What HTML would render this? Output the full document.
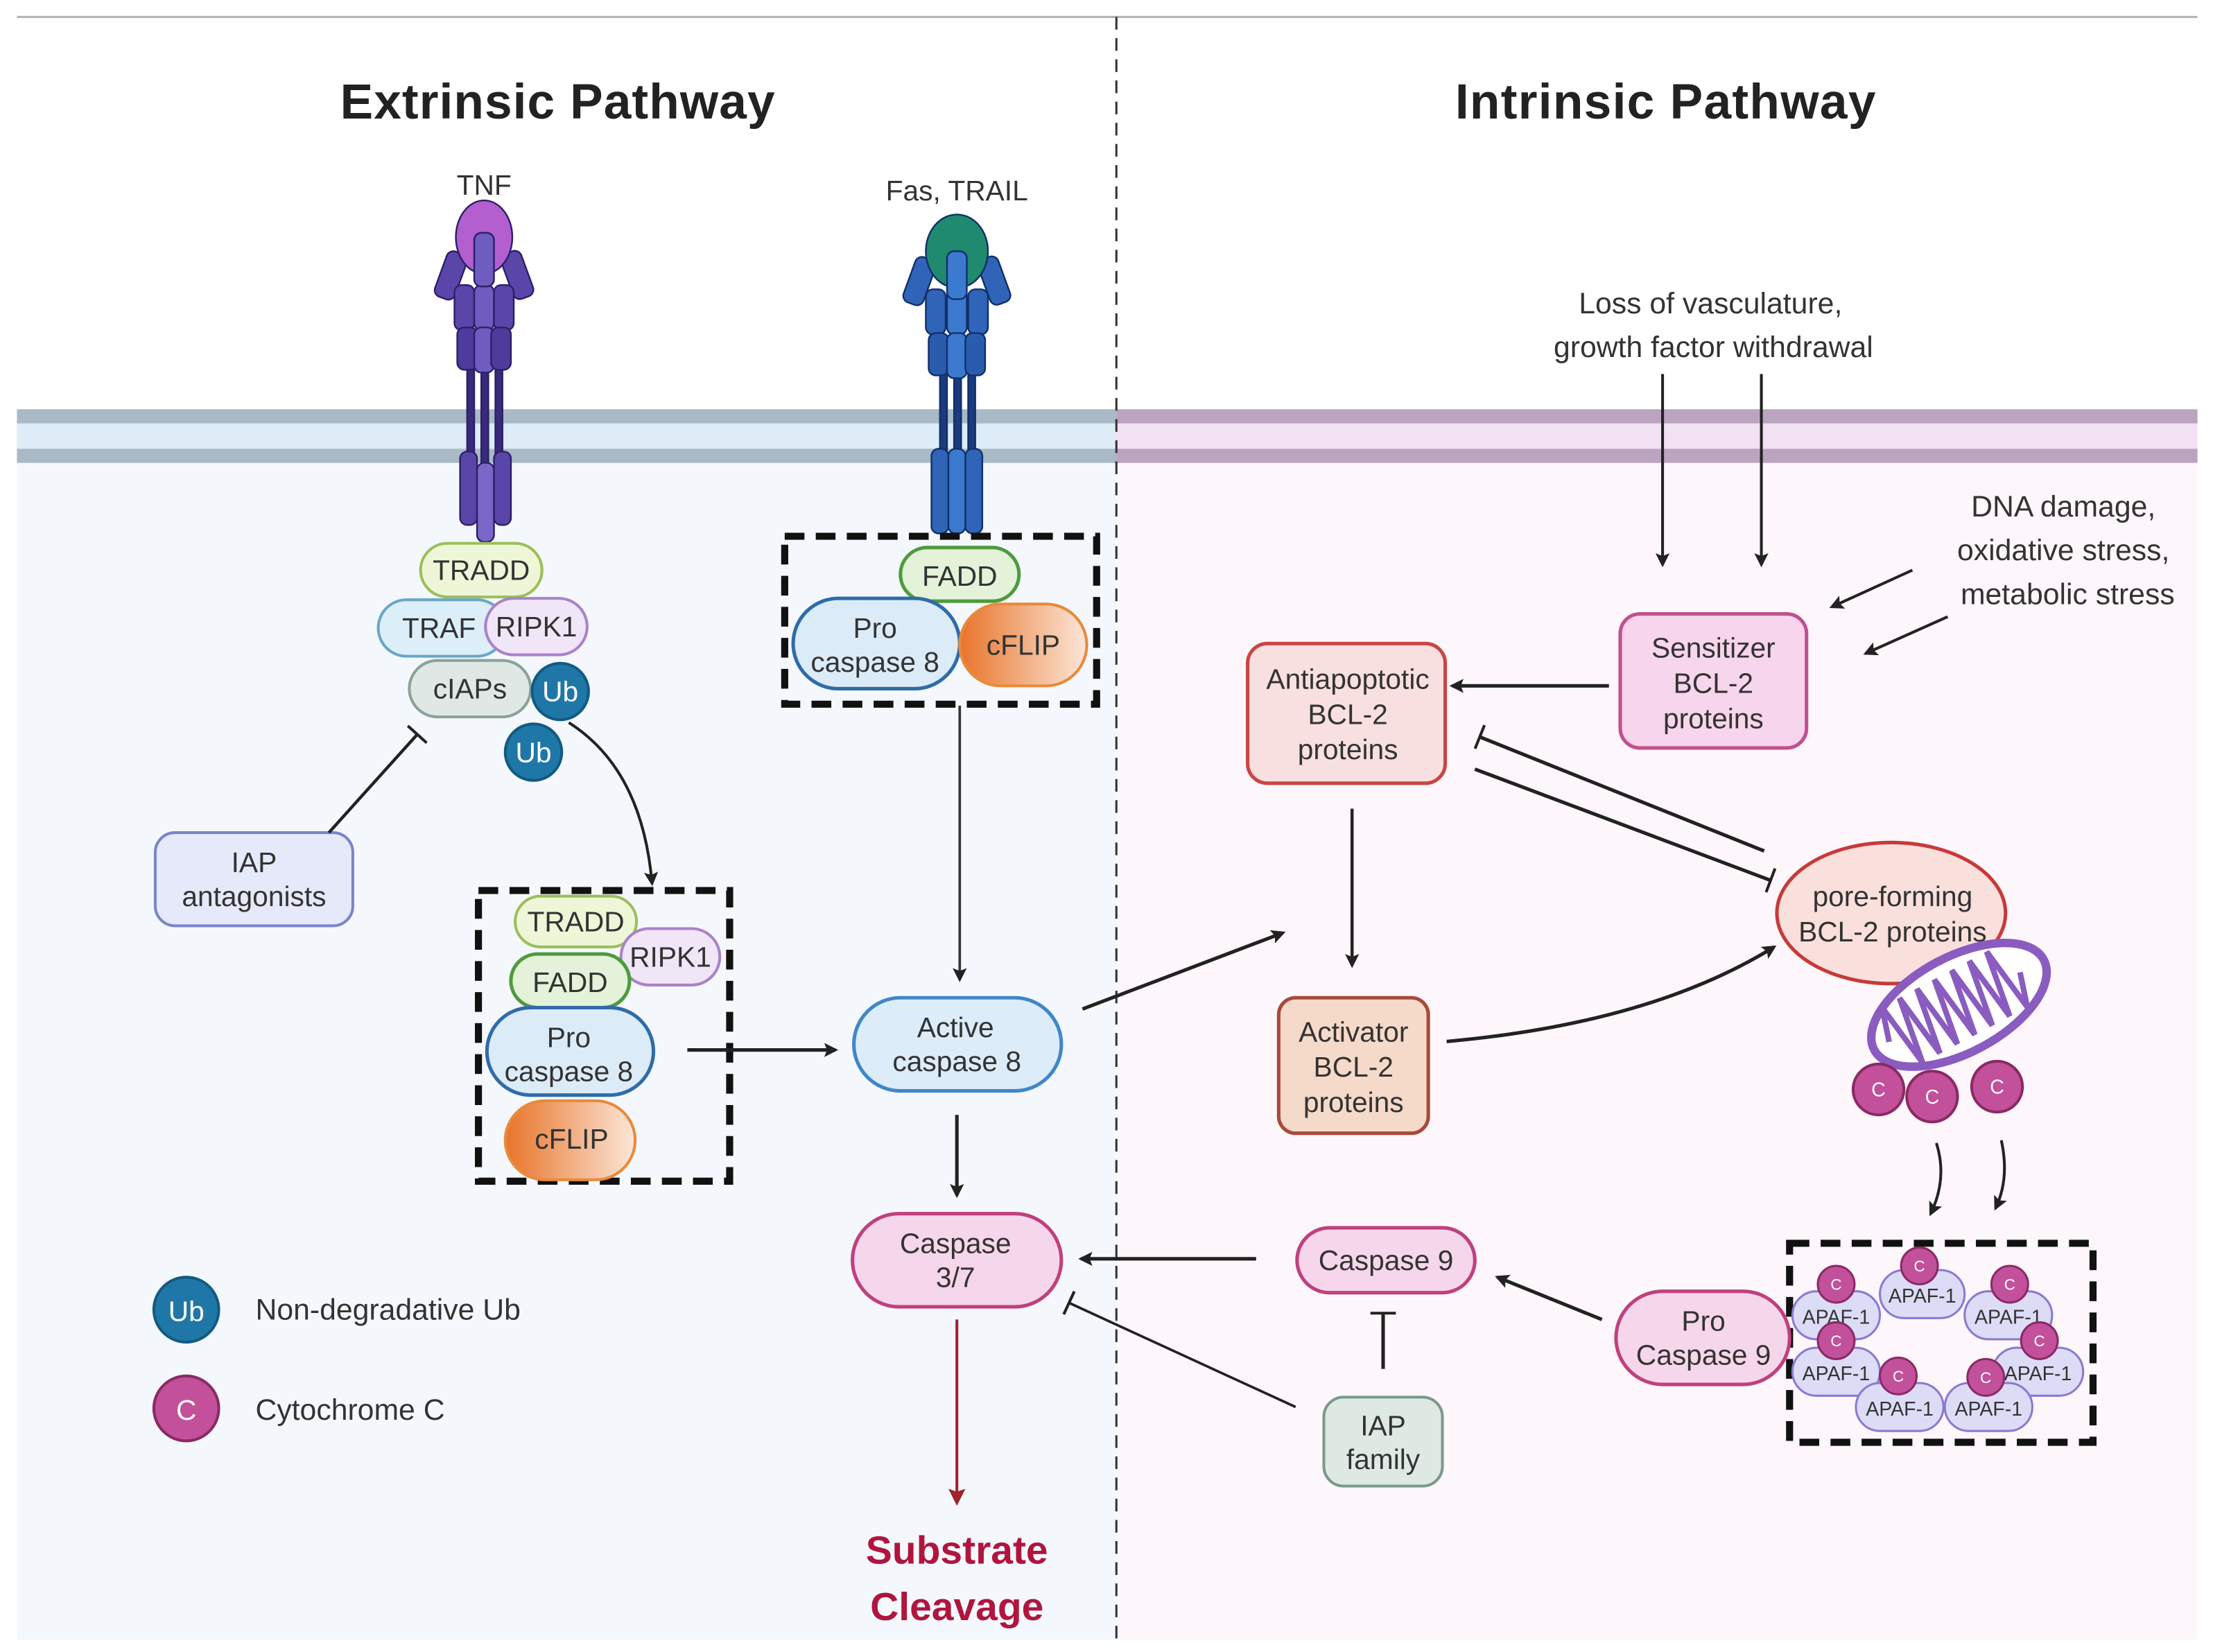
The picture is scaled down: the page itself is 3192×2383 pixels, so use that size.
<!DOCTYPE html>
<html><head><meta charset="utf-8"><style>
html,body{margin:0;padding:0;background:#fff}
svg{display:block}
text{font-family:"Liberation Sans",sans-serif;fill:#333}
</style></head><body>
<svg width="3192" height="2383" viewBox="0 0 1568 1170.6" preserveAspectRatio="none" xmlns="http://www.w3.org/2000/svg">
<defs>
<marker id="ah" markerWidth="10" markerHeight="10" refX="8" refY="5" orient="auto" markerUnits="userSpaceOnUse"><path d="M0,0 L10,5 L0,10 L2,5 Z" fill="#222"/></marker>
<marker id="ahr" markerWidth="12" markerHeight="12" refX="9" refY="6" orient="auto" markerUnits="userSpaceOnUse"><path d="M0,0 L12,6 L0,12 L2,6 Z" fill="#a0222a"/></marker>
<marker id="tb" markerWidth="4" markerHeight="18" refX="2" refY="9" orient="auto" markerUnits="userSpaceOnUse"><rect x="0.5" y="0" width="2" height="18" fill="#222"/></marker>
<linearGradient id="og" x1="0" x2="1"><stop offset="0" stop-color="#e8742a"/><stop offset="1" stop-color="#fbe6d8"/></linearGradient>
</defs>
<rect width="1568" height="1171" fill="#fff"/>
<rect x="12" y="300" width="779" height="862" fill="#f4f8fc"/>
<rect x="791" y="300" width="766" height="862" fill="#fdf6fa"/>
<line x1="12" y1="12" x2="1557" y2="12" stroke="#b5b5b5" stroke-width="1.5"/>
<rect x="12" y="290" width="779" height="38" fill="#ddecf7"/>
<rect x="12" y="290" width="779" height="10" fill="#a9b9c6"/>
<rect x="12" y="318" width="779" height="10" fill="#a9b9c6"/>
<rect x="791" y="290" width="766" height="38" fill="#f2e0f3"/>
<rect x="791" y="290" width="766" height="10" fill="#baa4c0"/>
<rect x="791" y="318" width="766" height="10" fill="#baa4c0"/>
<line x1="791" y1="12" x2="791" y2="1162" stroke="#333" stroke-width="1.5" stroke-dasharray="9,6"/>
<text x="395" y="84" font-size="35" font-weight="bold" text-anchor="middle" style="fill:#222" textLength="308">Extrinsic Pathway</text>
<text x="1180" y="84" font-size="35" font-weight="bold" text-anchor="middle" style="fill:#222" textLength="298">Intrinsic Pathway</text>

<!-- TNF receptor -->
<text x="343" y="138" font-size="20" text-anchor="middle">TNF</text>
<g stroke="#2d1f6a" stroke-width="1.2">
<rect x="331" y="258" width="5" height="70" fill="#3a2b7a"/><rect x="341" y="258" width="5" height="70" fill="#3a2b7a"/><rect x="351" y="258" width="5" height="70" fill="#3a2b7a"/>
<rect x="312" y="178" width="15" height="34" rx="5" fill="#5a46a8" transform="rotate(20 319 195)"/>
<rect x="359" y="178" width="15" height="34" rx="5" fill="#5a46a8" transform="rotate(-20 366 195)"/>
<rect x="322" y="202" width="14" height="32" rx="5" fill="#5a46a8"/><rect x="336" y="202" width="14" height="32" rx="5" fill="#6f5cc0"/><rect x="350" y="202" width="14" height="32" rx="5" fill="#5a46a8"/>
<rect x="324" y="232" width="14" height="30" rx="5" fill="#4e3c9c"/><rect x="336" y="232" width="14" height="32" rx="5" fill="#6f5cc0"/><rect x="348" y="232" width="14" height="30" rx="5" fill="#4e3c9c"/>
<rect x="326" y="320" width="12" height="52" rx="5" fill="#5a46a8"/><rect x="338" y="328" width="12" height="56" rx="5" fill="#7a68c8"/><rect x="350" y="320" width="12" height="52" rx="5" fill="#5a46a8"/>
<ellipse cx="343" cy="168" rx="20" ry="26" fill="#b35fd0"/>
<rect x="336" y="165" width="14" height="38" rx="5" fill="#6f5cc0"/>
</g>
<!-- Fas receptor -->
<text x="678" y="142" font-size="20" text-anchor="middle">Fas, TRAIL</text>
<g stroke="#12306a" stroke-width="1.2">
<rect x="666" y="260" width="5" height="68" fill="#1c3a7e"/><rect x="676" y="260" width="5" height="68" fill="#1c3a7e"/><rect x="686" y="260" width="5" height="68" fill="#1c3a7e"/>
<rect x="644" y="182" width="15" height="34" rx="5" fill="#2f64b8" transform="rotate(20 651 199)"/>
<rect x="697" y="182" width="15" height="34" rx="5" fill="#2f64b8" transform="rotate(-20 704 199)"/>
<rect x="656" y="205" width="14" height="32" rx="5" fill="#2f64b8"/><rect x="671" y="205" width="14" height="32" rx="5" fill="#3c7ad0"/><rect x="686" y="205" width="14" height="32" rx="5" fill="#2f64b8"/>
<rect x="658" y="236" width="14" height="30" rx="5" fill="#2a5cae"/><rect x="671" y="236" width="14" height="32" rx="5" fill="#3c7ad0"/><rect x="684" y="236" width="14" height="30" rx="5" fill="#2a5cae"/>
<rect x="660" y="318" width="12" height="60" rx="5" fill="#2f64b8"/><rect x="672" y="318" width="12" height="60" rx="5" fill="#3c7ad0"/><rect x="684" y="318" width="12" height="60" rx="5" fill="#2f64b8"/>
<ellipse cx="678" cy="178" rx="22" ry="26" fill="#1f8a6e"/>
<rect x="671" y="178" width="14" height="34" rx="5" fill="#3c7ad0"/>
</g>

<g font-size="20" text-anchor="middle">
<rect x="298" y="385" width="86" height="38" rx="19" fill="#eef6d8" stroke="#9bbf5a" stroke-width="2"/><text x="341" y="411">TRADD</text>
<rect x="268" y="425" width="90" height="40" rx="20" fill="#dceff8" stroke="#6aa7c8" stroke-width="2"/><text x="311" y="452">TRAF</text>
<rect x="344" y="424" width="72" height="40" rx="20" fill="#f1e6f8" stroke="#a983c8" stroke-width="2"/><text x="380" y="451">RIPK1</text>
<rect x="290" y="468" width="86" height="40" rx="20" fill="#dfe8e4" stroke="#8aa39a" stroke-width="2"/><text x="333" y="495">cIAPs</text>
<circle cx="397" cy="490" r="20" fill="#1f77a8" stroke="#135a82" stroke-width="2"/><text x="397" y="497" style="fill:#fff">Ub</text>
<circle cx="378" cy="533" r="20" fill="#1f77a8" stroke="#135a82" stroke-width="2"/><text x="378" y="540" style="fill:#fff">Ub</text>
<rect x="110" y="590" width="140" height="66" rx="14" fill="#e6e9f9" stroke="#7a86c8" stroke-width="2"/><text x="180" y="618">IAP</text><text x="180" y="642">antagonists</text>
</g>
<line x1="233" y1="590" x2="296" y2="520" stroke="#222" stroke-width="2.2" marker-end="url(#tb)"/>
<path d="M403,512 Q455,545 462,626" fill="none" stroke="#222" stroke-width="2" marker-end="url(#ah)"/>

<rect x="339" y="631" width="178" height="206" fill="none" stroke="#111" stroke-width="5" stroke-dasharray="14,8"/>
<g font-size="20" text-anchor="middle">
<rect x="365" y="635" width="86" height="36" rx="18" fill="#eef6d8" stroke="#9bbf5a" stroke-width="2"/><text x="408" y="660">TRADD</text>
<rect x="440" y="658" width="70" height="40" rx="20" fill="#f1e6f8" stroke="#a983c8" stroke-width="2"/><text x="475" y="685">RIPK1</text>
<rect x="362" y="676" width="84" height="38" rx="19" fill="#e3f2d8" stroke="#4f9a3e" stroke-width="2.5"/><text x="404" y="703">FADD</text>
<rect x="345" y="714" width="118" height="62" rx="31" fill="#dcebf8" stroke="#2f6ca8" stroke-width="2.5"/><text x="403" y="742">Pro</text><text x="403" y="766">caspase 8</text>
<rect x="358" y="780" width="92" height="56" rx="28" fill="url(#og)" stroke="#e88a3a" stroke-width="2"/><text x="405" y="814">cFLIP</text>
</g>
<line x1="487" y1="744" x2="592" y2="744" stroke="#222" stroke-width="2.5" marker-end="url(#ah)"/>

<rect x="556" y="380" width="221" height="119" fill="none" stroke="#111" stroke-width="5" stroke-dasharray="14,8"/>
<g font-size="20" text-anchor="middle">
<rect x="638" y="388" width="84" height="38" rx="19" fill="#e3f2d8" stroke="#4f9a3e" stroke-width="2.5"/><text x="680" y="415">FADD</text>
<rect x="562" y="424" width="118" height="64" rx="32" fill="#dcebf8" stroke="#2f6ca8" stroke-width="2.5"/><text x="620" y="452">Pro</text><text x="620" y="476">caspase 8</text>
<rect x="680" y="428" width="90" height="58" rx="29" fill="url(#og)" stroke="#e88a3a" stroke-width="2"/><text x="725" y="464">cFLIP</text>
</g>
<line x1="680" y1="500" x2="680" y2="694" stroke="#333" stroke-width="1.8" marker-end="url(#ah)"/>

<g font-size="20" text-anchor="middle">
<rect x="605" y="707" width="147" height="66" rx="33" fill="#dcecf9" stroke="#3f87c8" stroke-width="2.5"/><text x="677" y="735">Active</text><text x="678" y="759">caspase 8</text>
<rect x="604" y="860" width="148" height="66" rx="33" fill="#f6d6ea" stroke="#c0407e" stroke-width="2.5"/><text x="677" y="888">Caspase</text><text x="677" y="912">3/7</text>
</g>
<line x1="678" y1="790" x2="678" y2="847" stroke="#222" stroke-width="2.5" marker-end="url(#ah)"/>
<line x1="678" y1="935" x2="678" y2="1064" stroke="#a0222a" stroke-width="2" marker-end="url(#ahr)"/>
<text x="678" y="1108" font-size="28" font-weight="bold" text-anchor="middle" style="fill:#b0153e">Substrate</text>
<text x="678" y="1148" font-size="28" font-weight="bold" text-anchor="middle" style="fill:#b0153e">Cleavage</text>

<circle cx="132" cy="928" r="23" fill="#1f77a8" stroke="#135a82" stroke-width="2"/><text x="132" y="936" font-size="20" text-anchor="middle" style="fill:#fff">Ub</text>
<text x="181" y="935" font-size="21">Non-degradative Ub</text>
<circle cx="132" cy="998" r="23" fill="#c2509a" stroke="#8a2a66" stroke-width="2"/><text x="132" y="1006" font-size="20" text-anchor="middle" style="fill:#fff">C</text>
<text x="181" y="1006" font-size="21">Cytochrome C</text>

<g font-size="21" text-anchor="middle">
<text x="1212" y="222">Loss of vasculature,</text>
<text x="1214" y="253">growth factor withdrawal</text>
<text x="1462" y="366">DNA damage,</text>
<text x="1462" y="397">oxidative stress,</text>
<text x="1465" y="428">metabolic stress</text>
</g>
<line x1="1178" y1="265" x2="1178" y2="400" stroke="#222" stroke-width="2" marker-end="url(#ah)"/>
<line x1="1248" y1="265" x2="1248" y2="400" stroke="#222" stroke-width="2" marker-end="url(#ah)"/>
<line x1="1355" y1="404" x2="1298" y2="430" stroke="#222" stroke-width="2" marker-end="url(#ah)"/>
<line x1="1380" y1="437" x2="1322" y2="463" stroke="#222" stroke-width="2" marker-end="url(#ah)"/>

<g font-size="20" text-anchor="middle">
<rect x="1148" y="435" width="132" height="95" rx="14" fill="#f7d5ec" stroke="#c0508e" stroke-width="2.5"/><text x="1214" y="466">Sensitizer</text><text x="1214" y="491">BCL-2</text><text x="1214" y="516">proteins</text>
<rect x="884" y="456" width="140" height="99" rx="14" fill="#f8dfe0" stroke="#c94545" stroke-width="2.5"/><text x="955" y="488">Antiapoptotic</text><text x="955" y="513">BCL-2</text><text x="955" y="538">proteins</text>
<rect x="906" y="707" width="106" height="96" rx="12" fill="#f5d9c9" stroke="#a84a3a" stroke-width="2.5"/><text x="959" y="738">Activator</text><text x="959" y="763">BCL-2</text><text x="959" y="788">proteins</text>
<ellipse cx="1340" cy="647" rx="81" ry="50" fill="#fae0dc" stroke="#c73a3a" stroke-width="2.5"/><text x="1341" y="642">pore-forming</text><text x="1341" y="667">BCL-2 proteins</text>
</g>
<line x1="1140" y1="486" x2="1029" y2="486" stroke="#222" stroke-width="2.5" marker-end="url(#ah)"/>
<line x1="958" y1="573" x2="958" y2="684" stroke="#222" stroke-width="2.2" marker-end="url(#ah)"/>
<line x1="1250" y1="603" x2="1048" y2="522" stroke="#222" stroke-width="2.5" marker-end="url(#tb)"/>
<line x1="1045" y1="545" x2="1255" y2="624" stroke="#222" stroke-width="2.5" marker-end="url(#tb)"/>
<line x1="767" y1="715" x2="909" y2="661" stroke="#222" stroke-width="2.5" marker-end="url(#ah)"/>
<path d="M1025,738 Q1170,725 1257,671" fill="none" stroke="#222" stroke-width="2.5" marker-end="url(#ah)"/>

<g transform="rotate(-28 1388 712)">
<ellipse cx="1388" cy="712" rx="68" ry="34" fill="#fff" stroke="#8a5cc0" stroke-width="6"/>
<path d="M1332,712 l7,-24 l7,48 l7,-48 l7,48 l7,-48 l7,48 l7,-48 l7,48 l7,-48 l7,48 l7,-48 l7,48 l7,-48 l7,48 l7,-24" fill="none" stroke="#8a5cc0" stroke-width="4"/>
</g>
<g font-size="14" text-anchor="middle">
<circle cx="1331" cy="772" r="18" fill="#c2509a" stroke="#8a2a66" stroke-width="2"/><text x="1331" y="777" style="fill:#fff">C</text>
<circle cx="1369" cy="777" r="18" fill="#c2509a" stroke="#8a2a66" stroke-width="2"/><text x="1369" y="782" style="fill:#fff">C</text>
<circle cx="1415" cy="770" r="18" fill="#c2509a" stroke="#8a2a66" stroke-width="2"/><text x="1415" y="775" style="fill:#fff">C</text>
</g>
<path d="M1372,810 Q1380,835 1368,860" fill="none" stroke="#222" stroke-width="2" marker-end="url(#ah)"/>
<path d="M1418,808 Q1424,835 1414,856" fill="none" stroke="#222" stroke-width="2" marker-end="url(#ah)"/>

<rect x="1268" y="881" width="215" height="141" fill="none" stroke="#111" stroke-width="5" stroke-dasharray="14,8"/>
<g font-size="14" text-anchor="middle">
<g fill="#dcdcf6" stroke="#8a7ad0" stroke-width="1.5">
<rect x="1332" y="900" width="60" height="34" rx="17"/>
<rect x="1270" y="915" width="62" height="34" rx="17"/>
<rect x="1392" y="915" width="62" height="34" rx="17"/>
<rect x="1270" y="955" width="62" height="34" rx="17"/>
<rect x="1412" y="955" width="64" height="34" rx="17"/>
<rect x="1315" y="980" width="62" height="34" rx="17"/>
<rect x="1378" y="980" width="62" height="34" rx="17"/>
</g>
<text x="1362" y="923">APAF-1</text><text x="1301" y="938">APAF-1</text><text x="1423" y="938">APAF-1</text>
<text x="1301" y="978">APAF-1</text><text x="1444" y="978">APAF-1</text><text x="1346" y="1003">APAF-1</text><text x="1409" y="1003">APAF-1</text>
<g fill="#c2509a" stroke="#8a2a66" stroke-width="1.5">
<circle cx="1360" cy="897" r="13"/><circle cx="1301" cy="910" r="13"/><circle cx="1424" cy="910" r="13"/>
<circle cx="1301" cy="950" r="13"/><circle cx="1445" cy="950" r="13"/><circle cx="1345" cy="975" r="13"/><circle cx="1407" cy="976" r="13"/>
</g>
<g font-size="11">
<text x="1360" y="901" style="fill:#fff">C</text><text x="1301" y="914" style="fill:#fff">C</text><text x="1424" y="914" style="fill:#fff">C</text>
<text x="1301" y="954" style="fill:#fff">C</text><text x="1445" y="954" style="fill:#fff">C</text><text x="1345" y="979" style="fill:#fff">C</text><text x="1407" y="980" style="fill:#fff">C</text>
</g>
</g>

<g font-size="20" text-anchor="middle">
<rect x="1145" y="915" width="123" height="66" rx="33" fill="#f6d6ea" stroke="#c0407e" stroke-width="2.5"/><text x="1207" y="943">Pro</text><text x="1207" y="967">Caspase 9</text>
<rect x="919" y="870" width="126" height="46" rx="23" fill="#f6d6ea" stroke="#c0407e" stroke-width="2.5"/><text x="982" y="900">Caspase 9</text>
<rect x="938" y="990" width="84" height="63" rx="14" fill="#dfe9e4" stroke="#7a9a8c" stroke-width="2"/><text x="980" y="1017">IAP</text><text x="980" y="1041">family</text>
</g>
<line x1="1135" y1="935" x2="1061" y2="905" stroke="#222" stroke-width="2.5" marker-end="url(#ah)"/>
<line x1="890" y1="892" x2="766" y2="892" stroke="#222" stroke-width="2.5" marker-end="url(#ah)"/>
<line x1="980" y1="970" x2="980" y2="930" stroke="#222" stroke-width="2.5" marker-end="url(#tb)"/>
<line x1="918" y1="997" x2="757" y2="923" stroke="#222" stroke-width="1.8" marker-end="url(#tb)"/>
</svg>
</body></html>
